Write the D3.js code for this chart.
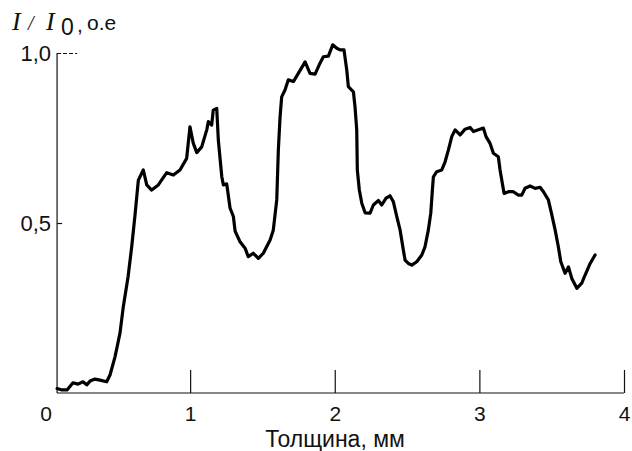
<!DOCTYPE html>
<html>
<head>
<meta charset="utf-8">
<script src="https://cdn.jsdelivr.net/npm/d3@7"></script>
<style>
  html, body { margin: 0; padding: 0; background: #fff; }
  svg { display: block; }
  text { font-family: "Liberation Sans", Arial, sans-serif; fill: #111; }
</style>
</head>
<body>
<svg id="chart" width="632" height="451"></svg>
<script>
// Relative intensity I/I0 versus thickness (mm)
const thickness = [
  0.080, 0.114, 0.149, 0.190, 0.225, 0.259, 0.285, 0.308, 0.342, 0.377,
  0.423, 0.446, 0.481, 0.515, 0.538, 0.571, 0.596, 0.619, 0.642, 0.676,
  0.700, 0.734, 0.780, 0.838, 0.884, 0.930, 0.976, 0.999, 1.022, 1.046,
  1.080, 1.115, 1.126, 1.149, 1.160, 1.184, 1.195, 1.219, 1.230, 1.253,
  1.276, 1.299, 1.311, 1.345, 1.380, 1.402, 1.437, 1.472, 1.506, 1.553,
  1.575, 1.599, 1.610, 1.622, 1.633, 1.656, 1.679, 1.714, 1.748, 1.795,
  1.829, 1.864, 1.898, 1.921, 1.956, 1.986, 2.014, 2.037, 2.064, 2.083,
  2.094, 2.129, 2.140, 2.152, 2.156, 2.170, 2.187, 2.210, 2.244, 2.267,
  2.302, 2.325, 2.355, 2.382, 2.405, 2.429, 2.452, 2.474, 2.486, 2.509,
  2.533, 2.567, 2.602, 2.624, 2.647, 2.664, 2.675, 2.682, 2.705, 2.740,
  2.763, 2.786, 2.809, 2.832, 2.867, 2.901, 2.936, 2.959, 2.993, 3.028,
  3.046, 3.074, 3.097, 3.131, 3.143, 3.155, 3.171, 3.201, 3.235, 3.270,
  3.293, 3.316, 3.351, 3.385, 3.420, 3.443, 3.477, 3.501, 3.524, 3.546,
  3.563, 3.593, 3.616, 3.639, 3.674, 3.708, 3.731, 3.766, 3.800
];
const intensity = [
  0.013, 0.009, 0.009, 0.030, 0.026, 0.033, 0.024, 0.035, 0.041, 0.038,
  0.033, 0.053, 0.107, 0.176, 0.254, 0.342, 0.430, 0.524, 0.626, 0.656,
  0.612, 0.597, 0.612, 0.648, 0.641, 0.656, 0.690, 0.783, 0.734, 0.707,
  0.724, 0.774, 0.798, 0.788, 0.832, 0.837, 0.744, 0.636, 0.612, 0.615,
  0.544, 0.519, 0.476, 0.445, 0.426, 0.401, 0.411, 0.396, 0.411, 0.450,
  0.479, 0.568, 0.715, 0.813, 0.871, 0.891, 0.921, 0.916, 0.940, 0.974,
  0.940, 0.938, 0.970, 0.989, 0.991, 1.024, 1.014, 1.009, 1.009, 0.950,
  0.901, 0.886, 0.842, 0.774, 0.656, 0.597, 0.558, 0.530, 0.529, 0.553,
  0.566, 0.553, 0.573, 0.580, 0.563, 0.519, 0.479, 0.421, 0.391, 0.381,
  0.376, 0.386, 0.406, 0.430, 0.479, 0.529, 0.597, 0.636, 0.651, 0.656,
  0.680, 0.715, 0.754, 0.774, 0.759, 0.776, 0.781, 0.769, 0.774, 0.779,
  0.754, 0.734, 0.705, 0.695, 0.656, 0.626, 0.587, 0.592, 0.592, 0.582,
  0.582, 0.602, 0.609, 0.602, 0.605, 0.592, 0.568, 0.524, 0.479, 0.430,
  0.386, 0.352, 0.371, 0.337, 0.308, 0.323, 0.347, 0.381, 0.406
];
const xTicks = [0, 1, 2, 3, 4];
const yTicks = [0.5, 1.0];
const xTitle = "Толщина, мм";

const svg = d3.select("#chart");

const x = d3.scaleLinear().domain([0, 4]).range([45.5, 624]);
const y = d3.scaleLinear().domain([0, 1]).range([393, 53]);
const axisStart = thickness[0];

// Axis lines
svg.append("line")
  .attr("x1", x(axisStart)).attr("x2", x(4))
  .attr("y1", y(0)).attr("y2", y(0))
  .attr("stroke", "#111").attr("stroke-width", 1.2);
svg.append("line")
  .attr("x1", x(axisStart)).attr("x2", x(axisStart))
  .attr("y1", y(0)).attr("y2", y(1))
  .attr("stroke", "#111").attr("stroke-width", 1.2);

// X ticks: inward marks, labels below
const xAxis = d3.axisBottom(x)
  .tickValues(xTicks)
  .tickSizeInner(-23)
  .tickSizeOuter(0)
  .tickPadding(13)
  .tickFormat(d3.format("d"));
const gx = svg.append("g")
  .attr("transform", `translate(0,${y(0)})`)
  .call(xAxis);
gx.attr("font-size", null).attr("font-family", null);
gx.select(".domain").remove();
gx.selectAll(".tick line").attr("stroke", "#111").attr("stroke-width", 1.2)
  .filter(d => d === 0).remove();
gx.selectAll(".tick text")
  .style("font-size", "21px")
  .attr("fill", "#111");

// Y ticks: short marks to the right of the axis, comma decimals
const yAxis = d3.axisLeft(y)
  .tickValues(yTicks)
  .tickSize(0)
  .tickPadding(6)
  .tickFormat(d => d3.format(".1f")(d).replace(".", ","));
const gy = svg.append("g")
  .attr("transform", `translate(${x(axisStart)},0)`)
  .call(yAxis);
gy.attr("font-size", null).attr("font-family", null);
gy.select(".domain").remove();
gy.selectAll(".tick text")
  .style("font-size", "22px")
  .attr("fill", "#111");
gy.selectAll(".tick").append("line")
  .attr("x1", 0)
  .attr("x2", d => d === 1 ? 20 : 5)
  .attr("stroke", "#111").attr("stroke-width", 1.2)
  .attr("stroke-dasharray", d => d === 1 ? "4,2" : null);

// Y label  I / I0 , o.e
const yl = svg.append("text").attr("y", 30);
yl.append("tspan").attr("x", 12)
  .style("font-family", "Liberation Serif, Times New Roman, serif")
  .style("font-style", "italic").style("font-size", "26px").text("I");
yl.append("tspan").attr("x", 28)
  .style("font-family", "Liberation Serif, Times New Roman, serif")
  .style("font-style", "italic").style("font-size", "20px").text("/");
yl.append("tspan").attr("x", 46)
  .style("font-family", "Liberation Serif, Times New Roman, serif")
  .style("font-style", "italic").style("font-size", "26px").text("I");
yl.append("tspan").attr("x", 61).attr("dy", 5)
  .style("font-size", "23px").text("0");
yl.append("tspan").attr("x", 77).attr("dy", -3)
  .style("font-size", "21px").text(",");
yl.append("tspan").attr("x", 87).attr("dy", -2)
  .style("font-size", "21px").text("o.e");

// X title
svg.append("text")
  .attr("x", 335).attr("y", 447)
  .attr("text-anchor", "middle")
  .style("font-size", "23px")
  .text(xTitle);

// Intensity curve
const pts = thickness.map((t, i) => [t, intensity[i]]);
svg.append("path")
  .datum(pts)
  .attr("fill", "none")
  .attr("stroke", "#000")
  .attr("stroke-width", 3.2)
  .attr("stroke-linejoin", "round")
  .attr("stroke-linecap", "round")
  .attr("d", d3.line().x(d => x(d[0])).y(d => y(d[1])));
</script>
</body>
</html>
